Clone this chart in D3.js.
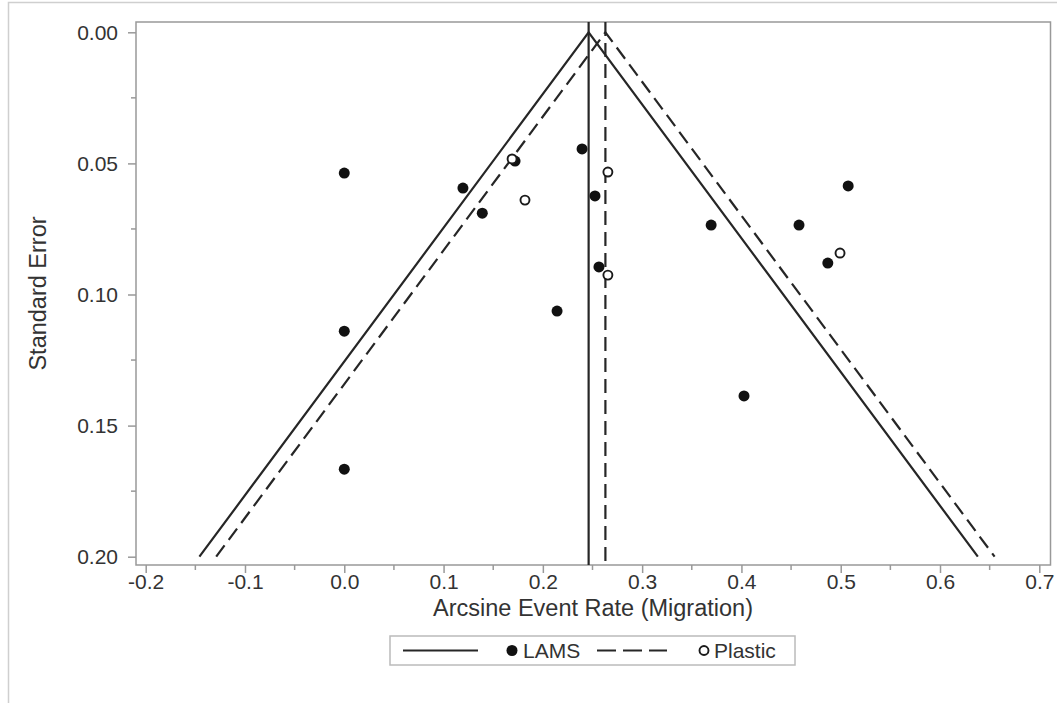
<!DOCTYPE html>
<html>
<head>
<meta charset="utf-8">
<script src="https://cdn.jsdelivr.net/npm/d3@7"></script>
<style>
  html, body { margin: 0; padding: 0; background: #fff; }
  svg { display: block; font-family: "Liberation Sans", Arial, sans-serif; }
</style>
</head>
<body>
<svg id="chart" width="1057" height="703"></svg>
<script>
// Study estimates: arcsine-transformed migration rate and its standard error
const lamsRate = [0.000, 0.1195, 0.139, 0.172, 0.2395, 0.2525, 0.2565, 0.2143, 0.000, 0.000, 0.3695, 0.458, 0.5075, 0.487, 0.4026];
const lamsSE   = [0.0537, 0.0594, 0.069, 0.0491, 0.0445, 0.0624, 0.0895, 0.1063, 0.114, 0.1666, 0.0735, 0.0735, 0.0586, 0.088, 0.1387];
const plasticRate = [0.169, 0.182, 0.2655, 0.2655, 0.4993];
const plasticSE   = [0.0483, 0.064, 0.0533, 0.0926, 0.0842];

// Pooled estimates (centre of each funnel)
const pooledLabels = ["LAMS", "Plastic"];
const pooledRate = [0.2461, 0.2630];

const xTicks = [-0.2, -0.1, 0.0, 0.1, 0.2, 0.3, 0.4, 0.5, 0.6, 0.7];
const yTicks = [0.00, 0.05, 0.10, 0.15, 0.20];
const seMax = 0.20;
const zCrit = 1.96;

const svg = d3.select("#chart");
const textColor = "#333";
const lineColor = "#262626";
const axisColor = "#999";
const fontFamily = "Liberation Sans, Arial, sans-serif";

// Plain hyphen for negative tick values
const fmt1 = v => d3.format(".1f")(v).replace("\u2212", "-");
const fmt2 = v => d3.format(".2f")(v).replace("\u2212", "-");

// Frame of the plotting area
const frame = { left: 136, right: 1050.5, top: 22, bottom: 565 };

const x = d3.scaleLinear().domain([-0.2, 0.7]).range([145.7, 1039.3]);
const y = d3.scaleLinear().domain([0, 0.2]).range([32.3, 556.7]);

// Outer border of the graph
svg.append("rect")
  .attr("x", 8.5).attr("y", 2.5)
  .attr("width", 1060).attr("height", 720)
  .attr("fill", "none").attr("stroke", "#cfcfcf").attr("stroke-width", 1.5);

// Plot area frame
svg.append("rect")
  .attr("x", frame.left).attr("y", frame.top)
  .attr("width", frame.right - frame.left).attr("height", frame.bottom - frame.top)
  .attr("fill", "#fff").attr("stroke", axisColor).attr("stroke-width", 1.5);

// Bottom axis
const xAxis = d3.axisBottom(x).tickValues(xTicks).tickFormat(fmt1).tickSize(8).tickSizeOuter(0);
const gx = svg.append("g").attr("transform", `translate(0,${frame.bottom})`).call(xAxis);
gx.select(".domain").remove();
gx.selectAll(".tick line").attr("stroke", axisColor).attr("stroke-width", 1.5);
gx.selectAll(".tick text").attr("fill", textColor).attr("font-size", 21).attr("dy", "0.62em")
  .attr("font-family", fontFamily);
// minor ticks
const xMinor = d3.range(xTicks.length - 1).map(i => (xTicks[i] + xTicks[i + 1]) / 2);
svg.append("g").selectAll("line").data(xMinor).join("line")
  .attr("x1", d => x(d)).attr("x2", d => x(d))
  .attr("y1", frame.bottom).attr("y2", frame.bottom + 5)
  .attr("stroke", axisColor).attr("stroke-width", 1.5);

// Left axis
const yAxis = d3.axisLeft(y).tickValues(yTicks).tickFormat(fmt2).tickSize(8).tickSizeOuter(0);
const gy = svg.append("g").attr("transform", `translate(${frame.left},0)`).call(yAxis);
gy.select(".domain").remove();
gy.selectAll(".tick line").attr("stroke", axisColor).attr("stroke-width", 1.5);
gy.selectAll(".tick text").attr("fill", textColor).attr("font-size", 21).attr("x", -18)
  .attr("font-family", fontFamily);
const yMinor = d3.range(yTicks.length - 1).map(i => (yTicks[i] + yTicks[i + 1]) / 2);
svg.append("g").selectAll("line").data(yMinor).join("line")
  .attr("x1", frame.left).attr("x2", frame.left - 5)
  .attr("y1", d => y(d)).attr("y2", d => y(d))
  .attr("stroke", axisColor).attr("stroke-width", 1.5);

// Axis titles
svg.append("text")
  .attr("x", 593).attr("y", 616)
  .attr("text-anchor", "middle").attr("font-size", 23.5).attr("fill", textColor)
  .text("Arcsine Event Rate (Migration)");
svg.append("text")
  .attr("transform", `translate(46,${(frame.top + frame.bottom) / 2}) rotate(-90)`)
  .attr("text-anchor", "middle").attr("font-size", 23.5).attr("fill", textColor)
  .text("Standard Error");

// Funnels and pooled-estimate lines
const dashes = [null, "14,7"];
const plot = svg.append("g");
pooledRate.forEach((c, i) => {
  const funnel = [
    [c - zCrit * seMax, seMax],
    [c, 0],
    [c + zCrit * seMax, seMax]
  ];
  plot.append("path")
    .attr("d", d3.line().x(d => x(d[0])).y(d => y(d[1]))(funnel))
    .attr("fill", "none").attr("stroke", lineColor).attr("stroke-width", 2.2)
    .attr("stroke-dasharray", dashes[i]);
  plot.append("line")
    .attr("x1", x(c)).attr("x2", x(c))
    .attr("y1", frame.top).attr("y2", frame.bottom)
    .attr("stroke", lineColor).attr("stroke-width", 2.2)
    .attr("stroke-dasharray", dashes[i]);
});

// Study points
const lams = lamsRate.map((r, i) => ({ r, se: lamsSE[i] }));
const plastic = plasticRate.map((r, i) => ({ r, se: plasticSE[i] }));
plot.append("g").selectAll("circle").data(lams).join("circle")
  .attr("cx", d => x(d.r)).attr("cy", d => y(d.se)).attr("r", 5.5)
  .attr("fill", "#111");
plot.append("g").selectAll("circle").data(plastic).join("circle")
  .attr("cx", d => x(d.r)).attr("cy", d => y(d.se)).attr("r", 4.5)
  .attr("fill", "#fff").attr("stroke", "#1a1a1a").attr("stroke-width", 1.9);

// Legend
const lg = svg.append("g");
const legendBox = { x: 390, y: 636, w: 405, h: 29 };
lg.append("rect")
  .attr("x", legendBox.x).attr("y", legendBox.y).attr("width", legendBox.w).attr("height", legendBox.h)
  .attr("fill", "#fff").attr("stroke", "#bbb").attr("stroke-width", 1.5);
const ly = legendBox.y + legendBox.h / 2;
lg.append("line").attr("x1", 403).attr("x2", 478).attr("y1", ly).attr("y2", ly)
  .attr("stroke", lineColor).attr("stroke-width", 2.2);
lg.append("circle").attr("cx", 512).attr("cy", ly).attr("r", 5.5).attr("fill", "#111");
lg.append("text").attr("x", 523).attr("y", ly).attr("dy", "0.36em").attr("font-size", 21)
  .attr("fill", textColor).text(pooledLabels[0]);
lg.append("line").attr("x1", 597).attr("x2", 667).attr("y1", ly).attr("y2", ly)
  .attr("stroke", lineColor).attr("stroke-width", 2.2).attr("stroke-dasharray", "19,7");
lg.append("circle").attr("cx", 704).attr("cy", ly).attr("r", 4.5)
  .attr("fill", "#fff").attr("stroke", "#1a1a1a").attr("stroke-width", 1.9);
lg.append("text").attr("x", 714).attr("y", ly).attr("dy", "0.36em").attr("font-size", 21)
  .attr("fill", textColor).text(pooledLabels[1]);
</script>
</body>
</html>
